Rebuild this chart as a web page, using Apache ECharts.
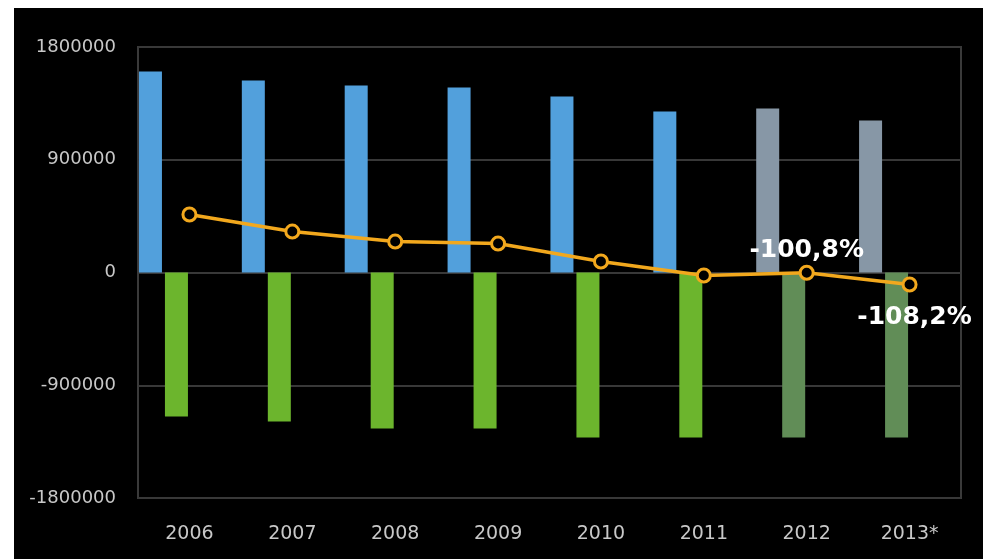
<!DOCTYPE html>
<html>
<head>
<meta charset="utf-8">
<script src="https://cdn.jsdelivr.net/npm/echarts@6/dist/echarts.min.js"></script>
<style>
  html, body { margin: 0; padding: 0; background: #fff; }
  #chart { position: absolute; left: 14px; top: 8px; width: 969px; height: 551px; background: #000; }
</style>
</head>
<body>
<div id="chart"></div>
<script>
// data
const years = ['2006', '2007', '2008', '2009', '2010', '2011', '2012', '2013*'];
const inflow = [1604000, 1533000, 1493000, 1477000, 1405000, 1285000, 1309000, 1213000];
const outflow = [-1149000, -1189000, -1245000, -1245000, -1317000, -1317000, -1317000, -1317000];
const balance = [463000, 327000, 247000, 231000, 88000, -24000, -2000, -96000];
const balanceLabels = ['', '', '', '', '', '', '-100,8%', '-108,2%'];
const yTicks = [-1800000, -900000, 0, 900000, 1800000];

const FIRST_ESTIMATE = 6; // 2012 and 2013* drawn in muted colours

var myChart = echarts.init(document.getElementById('chart'));

var lineData = balance.map(function(v, i){
    var item = { value: v };
    if (i === 7) {
        item.label = { position: 'bottom', offset: [5, 10] };
    }
    return item;
});

option = {
    backgroundColor: '#000',
    animation: false,
    grid: {
        left: 124, top: 39, right: 22, bottom: 61,
        show: true,
        borderColor: '#3a3a3a',
        borderWidth: 2
    },
    xAxis: {
        type: 'category',
        data: years,
        axisLine: { show: false },
        axisTick: { show: false },
        axisLabel: {
            color: '#c8c8c8',
            fontFamily: 'DejaVu Sans',
            fontSize: 19,
            margin: 27
        }
    },
    yAxis: {
        type: 'value',
        min: yTicks[0],
        max: yTicks[yTicks.length - 1],
        interval: 900000,
        axisLine: { show: false },
        axisTick: { show: false },
        splitLine: { lineStyle: { color: '#383838', width: 2 } },
        axisLabel: {
            color: '#c8c8c8',
            fontFamily: 'DejaVu Sans',
            fontSize: 18,
            margin: 22,
            formatter: function(v){ return String(v); }
        }
    },
    series: [
        {
            type: 'bar',
            data: inflow,
            barWidth: 23,
            barGap: '13%',
            itemStyle: {
                color: function(p){ return p.dataIndex >= FIRST_ESTIMATE ? '#8797a6' : '#52a0dc'; }
            }
        },
        {
            type: 'bar',
            data: outflow,
            barWidth: 23,
            barGap: '13%',
            itemStyle: {
                color: function(p){ return p.dataIndex >= FIRST_ESTIMATE ? '#618d57' : '#6cb52d'; }
            }
        },
        // two empty slots so the bar pair sits left of the category centre
        { type: 'bar', data: [], barWidth: 23, barGap: '13%' },
        { type: 'bar', data: [], barWidth: 23, barGap: '13%' },
        {
            type: 'line',
            data: lineData,
            z: 5,
            symbol: 'circle',
            symbolSize: 13,
            lineStyle: { color: '#f2a81d', width: 3.5 },
            itemStyle: { color: '#000', borderColor: '#f2a81d', borderWidth: 3 },
            label: {
                show: true,
                position: 'top',
                distance: 2,
                color: '#fff',
                fontFamily: 'DejaVu Sans',
                fontWeight: 'bold',
                fontSize: 25,
                formatter: function(p){ return balanceLabels[p.dataIndex]; }
            }
        }
    ]
};

myChart.setOption(option, true);
</script>
</body>
</html>
